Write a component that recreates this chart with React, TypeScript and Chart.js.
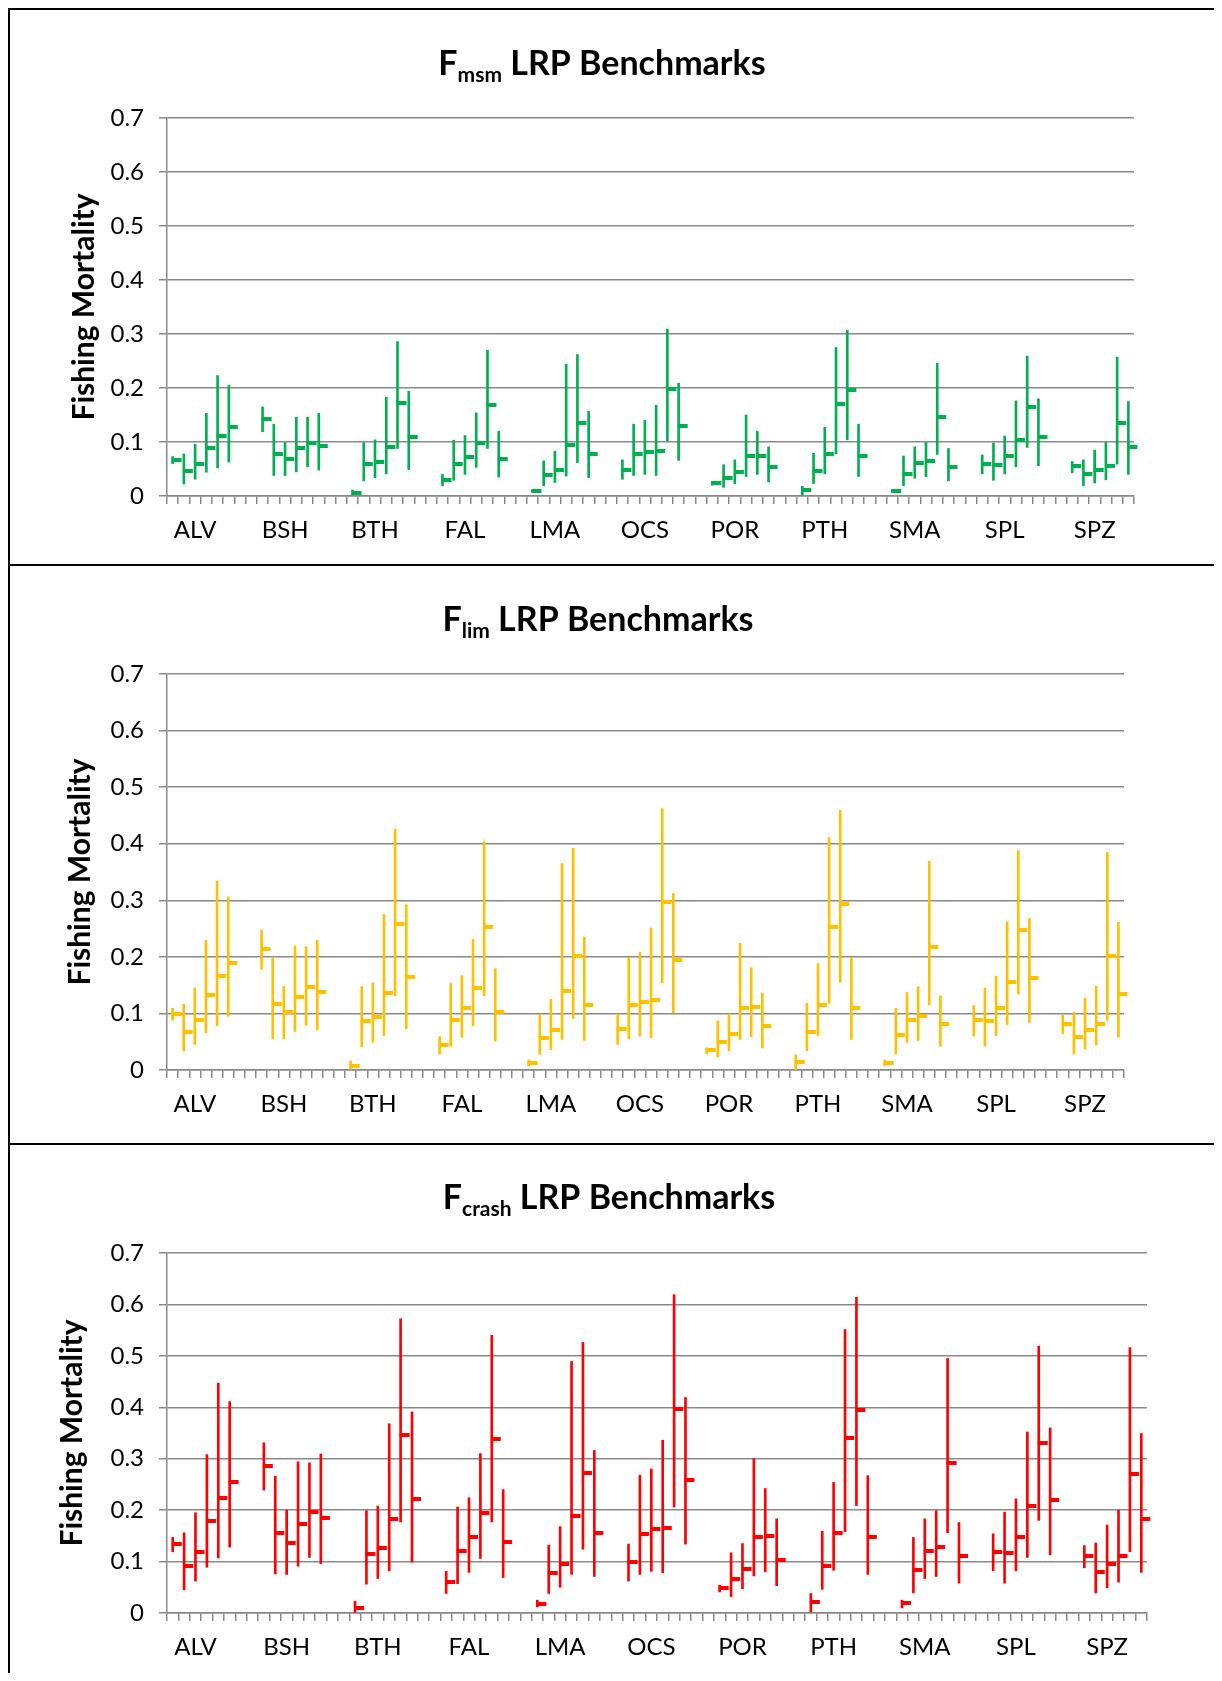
import React, { useEffect, useRef } from 'react';
import { Chart, registerables } from 'chart.js';

Chart.register(...registerables);

// ---------------- DATA ----------------
const groups = ['ALV', 'BSH', 'BTH', 'FAL', 'LMA', 'OCS', 'POR', 'PTH', 'SMA', 'SPL', 'SPZ'];
const ITEMS_PER_GROUP = 6;
const GAP_SLOTS = 2;
const LABEL_SLOT = 2;

const yTicks = [0, 0.1, 0.2, 0.3, 0.4, 0.5, 0.6, 0.7];

// F_msm (6 values per group, group order as `groups`)
const fmsmClose = [
  0.067, 0.046, 0.060, 0.089, 0.112, 0.127,
  0.143, 0.078, 0.069, 0.088, 0.098, 0.093,
  0.005, 0.059, 0.063, 0.091, 0.173, 0.110,
  0.030, 0.060, 0.073, 0.098, 0.169, 0.069,
  0.009, 0.038, 0.048, 0.094, 0.136, 0.078,
  0.049, 0.078, 0.082, 0.084, 0.199, 0.130,
  0.024, 0.034, 0.044, 0.074, 0.075, 0.053,
  0.011, 0.046, 0.078, 0.170, 0.197, 0.074,
  0.009, 0.041, 0.061, 0.065, 0.146, 0.054,
  0.059, 0.058, 0.074, 0.104, 0.165, 0.110,
  0.055, 0.040, 0.048, 0.055, 0.135, 0.091,
];
const fmsmHigh = [
  0.073, 0.078, 0.096, 0.153, 0.223, 0.205,
  0.165, 0.133, 0.099, 0.146, 0.146, 0.153,
  0.011, 0.099, 0.104, 0.183, 0.286, 0.194,
  0.040, 0.103, 0.112, 0.154, 0.270, 0.120,
  0.011, 0.065, 0.083, 0.244, 0.262, 0.157,
  0.067, 0.133, 0.140, 0.168, 0.309, 0.209,
  0.027, 0.058, 0.067, 0.150, 0.120, 0.091,
  0.018, 0.079, 0.127, 0.275, 0.307, 0.133,
  0.011, 0.074, 0.091, 0.099, 0.246, 0.088,
  0.076, 0.098, 0.111, 0.176, 0.259, 0.180,
  0.064, 0.067, 0.085, 0.099, 0.257, 0.175,
];
const fmsmLow = [
  0.060, 0.022, 0.031, 0.044, 0.052, 0.063,
  0.119, 0.038, 0.038, 0.045, 0.054, 0.048,
  0.000, 0.028, 0.034, 0.041, 0.088, 0.049,
  0.019, 0.029, 0.040, 0.053, 0.088, 0.035,
  0.007, 0.019, 0.025, 0.037, 0.062, 0.034,
  0.031, 0.038, 0.040, 0.038, 0.102, 0.066,
  0.020, 0.016, 0.023, 0.036, 0.040, 0.026,
  0.000, 0.023, 0.041, 0.078, 0.104, 0.036,
  0.007, 0.019, 0.033, 0.036, 0.077, 0.028,
  0.041, 0.029, 0.041, 0.054, 0.090, 0.056,
  0.043, 0.019, 0.024, 0.030, 0.059, 0.040,
];

// F_lim
const flimClose = [
  0.099, 0.068, 0.088, 0.133, 0.167, 0.189,
  0.214, 0.116, 0.102, 0.129, 0.146, 0.138,
  0.007, 0.086, 0.094, 0.136, 0.258, 0.165,
  0.044, 0.089, 0.109, 0.145, 0.252, 0.102,
  0.013, 0.056, 0.070, 0.140, 0.202, 0.115,
  0.073, 0.115, 0.121, 0.123, 0.297, 0.194,
  0.035, 0.050, 0.064, 0.109, 0.111, 0.077,
  0.015, 0.068, 0.115, 0.253, 0.294, 0.109,
  0.013, 0.062, 0.089, 0.096, 0.218, 0.081,
  0.088, 0.087, 0.109, 0.155, 0.247, 0.163,
  0.081, 0.059, 0.071, 0.082, 0.202, 0.135,
];
const flimHigh = [
  0.109, 0.116, 0.145, 0.229, 0.334, 0.306,
  0.247, 0.198, 0.148, 0.219, 0.218, 0.229,
  0.016, 0.147, 0.154, 0.275, 0.426, 0.292,
  0.059, 0.153, 0.167, 0.231, 0.404, 0.179,
  0.018, 0.098, 0.125, 0.365, 0.392, 0.235,
  0.099, 0.199, 0.208, 0.251, 0.462, 0.312,
  0.039, 0.087, 0.099, 0.224, 0.181, 0.136,
  0.027, 0.118, 0.188, 0.411, 0.459, 0.199,
  0.018, 0.109, 0.137, 0.147, 0.369, 0.131,
  0.114, 0.145, 0.166, 0.262, 0.388, 0.268,
  0.097, 0.102, 0.127, 0.148, 0.385, 0.261,
];
const flimLow = [
  0.088, 0.034, 0.045, 0.066, 0.078, 0.095,
  0.178, 0.055, 0.055, 0.068, 0.079, 0.071,
  0.000, 0.041, 0.049, 0.061, 0.131, 0.073,
  0.028, 0.042, 0.058, 0.078, 0.131, 0.051,
  0.007, 0.028, 0.036, 0.054, 0.091, 0.052,
  0.045, 0.055, 0.060, 0.057, 0.154, 0.101,
  0.028, 0.023, 0.034, 0.054, 0.059, 0.039,
  0.001, 0.034, 0.061, 0.118, 0.155, 0.054,
  0.007, 0.028, 0.049, 0.052, 0.115, 0.042,
  0.060, 0.042, 0.061, 0.080, 0.134, 0.084,
  0.064, 0.028, 0.037, 0.044, 0.088, 0.058,
];

// F_crash
const fcrashClose = [
  0.134, 0.092, 0.119, 0.178, 0.224, 0.254,
  0.286, 0.156, 0.137, 0.174, 0.196, 0.184,
  0.010, 0.115, 0.127, 0.183, 0.346, 0.221,
  0.060, 0.121, 0.147, 0.195, 0.338, 0.138,
  0.018, 0.077, 0.095, 0.188, 0.272, 0.155,
  0.099, 0.154, 0.163, 0.166, 0.397, 0.259,
  0.048, 0.067, 0.086, 0.147, 0.150, 0.104,
  0.021, 0.092, 0.155, 0.340, 0.394, 0.148,
  0.019, 0.084, 0.121, 0.129, 0.292, 0.110,
  0.119, 0.116, 0.148, 0.209, 0.330, 0.220,
  0.110, 0.080, 0.096, 0.111, 0.271, 0.182,
];
const fcrashHigh = [
  0.147, 0.156, 0.195, 0.308, 0.447, 0.411,
  0.331, 0.266, 0.200, 0.294, 0.292, 0.309,
  0.023, 0.199, 0.208, 0.368, 0.572, 0.391,
  0.081, 0.206, 0.224, 0.310, 0.540, 0.240,
  0.025, 0.132, 0.168, 0.489, 0.526, 0.316,
  0.134, 0.268, 0.280, 0.336, 0.619, 0.419,
  0.054, 0.117, 0.135, 0.300, 0.242, 0.183,
  0.038, 0.159, 0.254, 0.551, 0.614, 0.267,
  0.025, 0.147, 0.183, 0.199, 0.495, 0.176,
  0.154, 0.196, 0.222, 0.352, 0.519, 0.360,
  0.131, 0.136, 0.171, 0.200, 0.516, 0.349,
];
const fcrashLow = [
  0.119, 0.045, 0.062, 0.089, 0.107, 0.128,
  0.239, 0.076, 0.075, 0.091, 0.108, 0.096,
  0.000, 0.056, 0.067, 0.082, 0.177, 0.099,
  0.038, 0.057, 0.079, 0.106, 0.177, 0.069,
  0.012, 0.038, 0.050, 0.075, 0.124, 0.071,
  0.062, 0.075, 0.081, 0.078, 0.206, 0.134,
  0.041, 0.032, 0.047, 0.072, 0.080, 0.053,
  0.002, 0.046, 0.083, 0.158, 0.209, 0.075,
  0.010, 0.039, 0.067, 0.071, 0.156, 0.058,
  0.082, 0.058, 0.082, 0.108, 0.180, 0.113,
  0.088, 0.039, 0.049, 0.060, 0.119, 0.079,
];

// ---------------- HELPERS ----------------
const SLOTS = groups.length * (ITEMS_PER_GROUP + GAP_SLOTS) - GAP_SLOTS;

function buildLabels(): string[] {
  const out: string[] = [];
  for (let i = 0; i < SLOTS; i++) out.push('');
  groups.forEach((g, gi) => {
    out[gi * (ITEMS_PER_GROUP + GAP_SLOTS) + LABEL_SLOT] = g;
  });
  return out;
}

function spread<T>(values: T[]): (T | null)[] {
  const out: (T | null)[] = [];
  for (let i = 0; i < SLOTS; i++) out.push(null);
  values.forEach((v, k) => {
    const g = Math.floor(k / ITEMS_PER_GROUP);
    const it = k % ITEMS_PER_GROUP;
    out[g * (ITEMS_PER_GROUP + GAP_SLOTS) + it] = v;
  });
  return out;
}

const FONT = 'Lato, "Open Sans", sans-serif';
const GRID = '#898989';

const titlePlugin = {
  id: 'subTitle',
  afterDraw(chart: any, _args: any, opts: any) {
    const { ctx } = chart;
    const S = opts.size;
    const big = `bold ${S}px ${FONT}`;
    const small = `bold ${Math.round(S * 0.62)}px ${FONT}`;
    ctx.save();
    ctx.fillStyle = '#000';
    ctx.textBaseline = 'alphabetic';
    ctx.textAlign = 'left';
    ctx.font = big;
    const wF = ctx.measureText('F').width;
    const rest = ' LRP Benchmarks';
    const wRest = ctx.measureText(rest).width;
    ctx.font = small;
    const wSub = ctx.measureText(opts.sub).width;
    let x = opts.cx - (wF + wSub + wRest) / 2;
    ctx.font = big;
    ctx.fillText('F', x, opts.baseline);
    x += wF;
    ctx.font = small;
    ctx.fillText(opts.sub, x, opts.baseline + S * 0.22);
    x += wSub;
    ctx.font = big;
    ctx.fillText(rest, x, opts.baseline);
    ctx.restore();
  },
};

type PanelCfg = {
  sub: string;
  color: string;
  close: number[];
  high: number[];
  low: number[];
  height: number;
  padRight: number;
  padTop: number;
  xAxisH: number;
  yTitleCenter: number;
  titleCx: number;
  titleBaseline: number;
};

const CANVAS_W = 1212;
const Y_AXIS_W = 157;

function Panel({ cfg }: { cfg: PanelCfg }) {
  const ref = useRef<HTMLCanvasElement>(null);
  useEffect(() => {
    const marker = document.createElement('canvas');
    marker.width = 20;
    marker.height = 4;
    const mctx = marker.getContext('2d')!;
    mctx.fillStyle = cfg.color;
    mctx.fillRect(9, 0, 10, 4);

    const labels = buildLabels();
    const closeData = spread(cfg.close);
    const rangeData = spread(cfg.high.map((h, i) => [cfg.low[i], h]));

    const chart = new Chart(ref.current!, {
      type: 'bar',
      data: {
        labels,
        datasets: [
          {
            type: 'line',
            data: closeData as any,
            showLine: false,
            pointStyle: marker as any,
            pointRadius: 5,
            clip: false as any,
            order: 0,
          } as any,
          {
            type: 'bar',
            data: rangeData as any,
            backgroundColor: cfg.color,
            borderWidth: 0,
            barThickness: 2,
            clip: false as any,
            order: 1,
          } as any,
        ],
      },
      options: {
        responsive: false,
        animation: false,
        devicePixelRatio: 1,
        layout: { padding: { left: 0, right: cfg.padRight, top: cfg.padTop, bottom: 0 } },
        plugins: {
          legend: { display: false },
          tooltip: { enabled: false },
          title: { display: false },
          subTitle: { sub: cfg.sub, cx: cfg.titleCx, baseline: cfg.titleBaseline, size: 34 },
        } as any,
        scales: {
          x: {
            type: 'category',
            offset: true,
            grid: {
              offset: true,
              drawOnChartArea: false,
              drawTicks: true,
              tickLength: 8,
              color: GRID,
              lineWidth: 1.5,
            },
            border: { color: GRID, width: 1.5 },
            ticks: {
              autoSkip: false,
              maxRotation: 0,
              minRotation: 0,
              padding: 12,
              color: '#000',
              font: { family: FONT, size: 24 },
            },
            afterFit: (s: any) => {
              s.height = cfg.xAxisH;
            },
          },
          y: {
            min: 0,
            max: 0.7,
            afterBuildTicks: (s: any) => {
              s.ticks = yTicks.map((v) => ({ value: v }));
            },
            ticks: {
              padding: 15,
              color: '#000',
              font: { family: FONT, size: 24 },
              callback: (v: any) => (Number(v) === 0 ? '0' : Number(v).toFixed(1)),
            },
            grid: { color: GRID, lineWidth: 1.5, tickLength: 8 },
            border: { color: GRID, width: 1.5 },
            title: {
              display: true,
              text: 'Fishing Mortality',
              color: '#000',
              font: { family: FONT, size: 30, weight: 'bold' },
              padding: { top: cfg.yTitleCenter - 18, bottom: 0 },
            },
            afterFit: (s: any) => {
              s.width = Y_AXIS_W;
            },
          },
        } as any,
      },
      plugins: [titlePlugin as any],
    });
    return () => chart.destroy();
  }, [cfg]);

  return (
    <div
      style={{
        borderTop: '2px solid #000',
        borderLeft: '2px solid #000',
        height: cfg.height,
        position: 'relative',
      }}
    >
      <canvas
        ref={ref}
        width={CANVAS_W}
        height={cfg.height}
        style={{ display: 'block', width: CANVAS_W, height: cfg.height }}
      />
    </div>
  );
}

const panels: PanelCfg[] = [
  {
    sub: 'msm',
    color: '#00B050',
    close: fmsmClose,
    high: fmsmHigh,
    low: fmsmLow,
    height: 554,
    padRight: 88,
    padTop: 108,
    xAxisH: 68,
    yTitleCenter: 74,
    titleCx: 592,
    titleBaseline: 65,
  },
  {
    sub: 'lim',
    color: '#FFC000',
    close: flimClose,
    high: flimHigh,
    low: flimLow,
    height: 577,
    padRight: 98,
    padTop: 108,
    xAxisH: 73,
    yTitleCenter: 70,
    titleCx: 588,
    titleBaseline: 65,
  },
  {
    sub: 'crash',
    color: '#FF0000',
    close: fcrashClose,
    high: fcrashHigh,
    low: fcrashLow,
    height: 528,
    padRight: 75,
    padTop: 108,
    xAxisH: 60,
    yTitleCenter: 62,
    titleCx: 599,
    titleBaseline: 64,
  },
];

export default function App() {
  return (
    <div style={{ width: 1214, background: '#fff' }}>
      {panels.map((p, i) => (
        <Panel key={i} cfg={p} />
      ))}
    </div>
  );
}
